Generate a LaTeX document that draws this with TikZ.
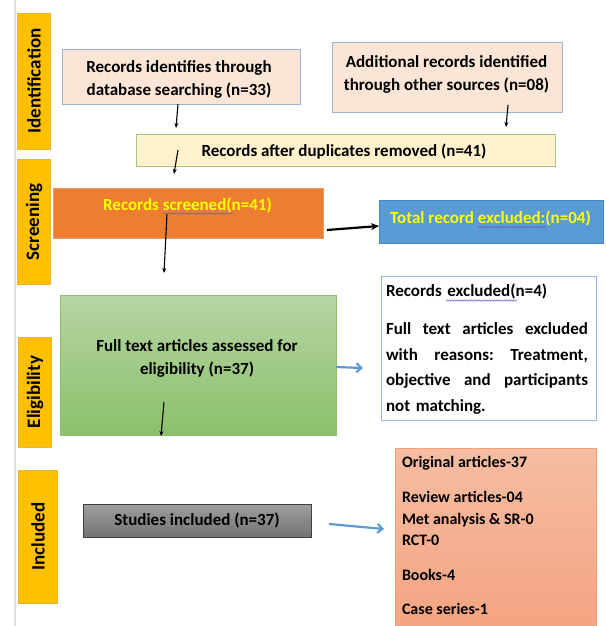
\documentclass[tikz,border=0pt]{standalone}
\usepackage{fontspec}
\setmainfont{Carlito}
\usetikzlibrary{arrows.meta,decorations.pathmorphing}
\definecolor{stagecol}{HTML}{FFC000}
\definecolor{stagedraw}{HTML}{E8B33A}
\definecolor{pinkfill}{HTML}{FBE5D6}
\definecolor{pinkdraw}{HTML}{9DB3D6}
\definecolor{yelfill}{HTML}{FFF2CC}
\definecolor{yeldraw}{HTML}{A9C47F}
\definecolor{orfill}{HTML}{ED7D31}
\definecolor{ordraw}{HTML}{E49A6A}
\definecolor{bluefill}{HTML}{5B9BD5}
\definecolor{bluedraw}{HTML}{4A86C5}
\definecolor{greentop}{HTML}{B5D5A3}
\definecolor{greenbot}{HTML}{8CC06B}
\definecolor{greendraw}{HTML}{8CC06B}
\definecolor{saltop}{HTML}{F5BDA2}
\definecolor{salbot}{HTML}{F4A17E}
\definecolor{saldraw}{HTML}{F3A27A}
\definecolor{arrblue}{HTML}{5B9BD5}
\definecolor{squig}{HTML}{6F5FC8}
\definecolor{txtyellow}{HTML}{FFFF00}
\newcommand\jline[1]{\leavevmode\hbox to 202pt{#1}}
\begin{document}
\begin{tikzpicture}[x=1pt,y=-1pt,
  every node/.style={inner sep=0pt, outer sep=0pt},
  f/.style={font=\bfseries\fontsize{17}{23}\selectfont},
  stage/.style={fill=stagecol, draw=stagedraw, line width=0.6pt, rotate=90, font=\bfseries\fontsize{19}{21}\selectfont, text=black},
  boxn/.style={line width=0.9pt},
  arr/.style={-{Stealth[length=5pt,width=4pt]}, line width=1.1pt, black},
  barr/.style={-{Straight Barb[length=5pt,width=9pt]}, line width=2.2pt, arrblue},
  wavy/.style={squig, line width=0.5pt, decorate, decoration={snake, amplitude=0.7pt, segment length=2.5pt}}
]
\useasboundingbox (0,0) rectangle (605,626);
\clip (0,0) rectangle (605,626);
\fill[white] (0,0) rectangle (605,626);
\draw[black!12, line width=2.5pt] (15,0) -- (15,626);

% stage bars
\node[stage, minimum width=136, minimum height=33] (sid) at (34,81) {Identification};
\node[stage, minimum width=125, minimum height=33] (sscr) at (34,222) {Screening};
\node[stage, minimum width=110, minimum height=33] (selig) at (35,392) {Eligibility};
\node[stage, minimum width=133, minimum height=39] (sinc) at (38,536.5) {Included};

% identification boxes
\node[boxn, fill=pinkfill, draw=pinkdraw, minimum width=238, minimum height=55] (rid) at (181,77) {};
\node[f, align=center] (trid) at (179,79.6) {Records identifies through\\database searching (n=33)};
\node[boxn, fill=pinkfill, draw=pinkdraw, minimum width=230, minimum height=70] (add) at (447,77) {};
\node[f, align=center] (tadd) at (446.5,74.1) {Additional records identified\\through other sources (n=08)};

\node[boxn, fill=yelfill, draw=yeldraw, minimum width=419, minimum height=32] (dup) at (345.5,150) {};
\node[f, anchor=base] (tdup) at (344,156) {Records after duplicates removed (n=41)};

% screening
\node[boxn, fill=orfill, draw=ordraw, minimum width=270, minimum height=50] (scr) at (188,213) {};
\node[f, anchor=base, text=txtyellow] (tscr) at (187.5,210) {Records screened(n=41)};
\node[boxn, fill=bluefill, draw=bluedraw, minimum width=224, minimum height=43] (tot) at (491,221.5) {};
\node[f, anchor=base, text=txtyellow] (ttot) at (490.5,223.5) {Total record excluded:(n=04)};

% eligibility
\node[boxn, top color=greentop, bottom color=greenbot, draw=greendraw, minimum width=276, minimum height=140] (full) at (198,365) {};
\node[f, align=center] (tfull) at (197,358.3) {Full text articles assessed for\\eligibility (n=37)};
\node[boxn, fill=white, draw=pinkdraw, minimum width=215, minimum height=144] (rex) at (488.5,348) {};
\node[anchor=north west, text width=202, align=left, font=\bfseries\fontsize{17}{25.5}\selectfont] (trex) at (386,283.5) {Records excluded(n=4)\\[13pt]
\jline{Full\hfil text\hfil articles\hfil excluded}\\
\jline{with\hfil reasons:\hfil Treatment,}\\
\jline{objective\hfil and\hfil participants}\\
not matching.};

% included
\node[boxn, top color=black!38, bottom color=black!55, draw=black!75, minimum width=228, minimum height=33] (stud) at (197,520.5) {};
\node[f, anchor=base] (tstud) at (197,525) {Studies included (n=37)};
\node[boxn, top color=saltop, bottom color=salbot, draw=saldraw, minimum width=201, minimum height=200] (inc) at (495.5,548) {};
\node[anchor=north west, align=left, font=\bfseries\fontsize{16}{21.5}\selectfont] (tinc) at (402,456.5) {Original articles-37\\[13.5pt]
Review articles-04\\Met analysis \& SR-0\\RCT-0\\[13.5pt]Books-4\\[12.5pt]Case series-1};

% arrow end points
\coordinate (a1s) at (178,104); \coordinate (a1e) at (176,128);
\coordinate (a2s) at (508,105); \coordinate (a2e) at (506,127);
\coordinate (a3s) at (178,150); \coordinate (a3e) at (174,174);
\coordinate (a4s) at (167,214); \coordinate (a4e) at (164,273);
\coordinate (a5s) at (327,230); \coordinate (a5e) at (379,226);
\coordinate (a6s) at (336,367); \coordinate (a6e) at (363,368);
\coordinate (a7s) at (164,402); \coordinate (a7e) at (161,436);
\coordinate (a8s) at (329,524); \coordinate (a8e) at (384,529);

\draw[arr] (a1s) -- (a1e);
\draw[arr] (a2s) -- (a2e);
\draw[arr] (a3s) -- (a3e);
\draw[arr] (a4s) -- (a4e);
\draw[arr, line width=2.2pt, -{Stealth[length=8pt,width=7pt]}] (a5s) -- (a5e);
\draw[barr] (a6s) -- (a6e);
\draw[arr] (a7s) -- (a7e);
\draw[barr] (a8s) -- (a8e);

% spell-check squiggles
\draw[wavy] (163,213.5) -- (233,213.5);
\draw[wavy] (478,227) -- (547,227);
\draw[wavy] (446,300.5) -- (517,300.5);
\end{tikzpicture}
\end{document}
